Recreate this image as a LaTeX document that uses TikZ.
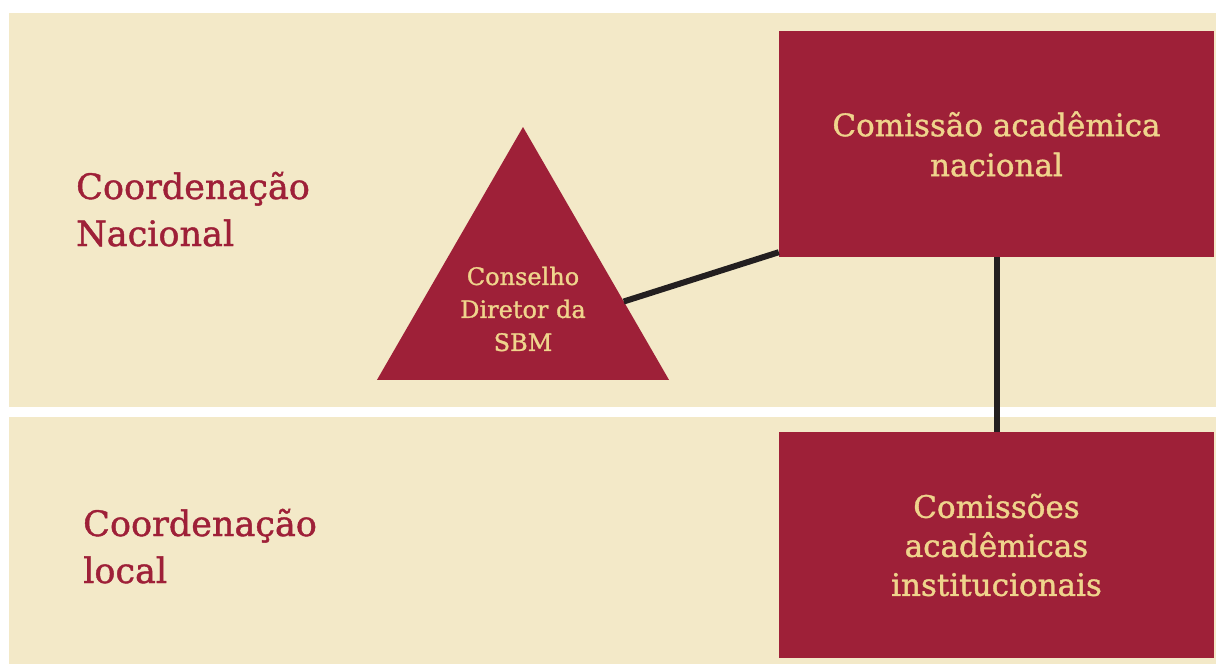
\documentclass[tikz,border=0pt]{standalone}
\usepackage{fontspec}
\setmainfont{DejaVu Serif}[BoldFont={DejaVu Serif}, BoldFeatures={FakeBold=1.2}]
\usetikzlibrary{shapes.geometric,calc}

\definecolor{sbmred}{HTML}{9E2038}
\definecolor{sbmbeige}{HTML}{F3E9C8}
\definecolor{sbmgold}{HTML}{EFD48C}
\definecolor{sbmline}{HTML}{231F20}

\begin{document}
\begin{tikzpicture}[x=1pt, y=-1pt,
    band/.style={fill=sbmbeige},
    levellabel/.style={anchor=base west, align=left, inner sep=0, text=sbmred,
      font=\fontsize{35}{47}\selectfont\bfseries},
    commbox/.style={rectangle, fill=sbmred, text=sbmgold, align=center,
      minimum width=435pt, minimum height=226pt, inner sep=0,
      font=\fontsize{31}{40}\selectfont\bfseries},
    council/.style={regular polygon, regular polygon sides=3, fill=sbmred,
      minimum size=337.2pt, inner sep=0, outer sep=0},
    counciltext/.style={text=sbmgold, align=center, inner sep=0,
      font=\fontsize{24}{33}\selectfont\bfseries},
    link/.style={draw=sbmline, line width=6pt}]
  \useasboundingbox (0, 0) rectangle (1216, 664);

  \fill[band] (9, 13) rectangle (1216, 407);
  \fill[band] (9, 417) rectangle (1216, 664);

  \node[levellabel] (nacional) at (76, 246) {Coordenação\\Nacional};
  \node[levellabel] (local) at (83, 583) {Coordenação\\local};

  \node[council] (sbm) at (523, 295.6) {};
  \node[counciltext] (sbmtext) at (523, 309) {Conselho\\Diretor da\\SBM};

  \node[commbox] (cnac) at (996.5, 144) {Comissão acadêmica\\nacional};
  \node[commbox, font=\fontsize{31}{39}\selectfont\bfseries] (cinst) at (996.5, 545)
    {Comissões\\acadêmicas\\institucionais};

  \draw[link] ($(sbm.corner 1)!0.69!(sbm.corner 3)$) -- ($(cnac.south west)+(0, -5)$);
  \draw[link] (cnac.south) -- (cinst.north);
\end{tikzpicture}
\end{document}
